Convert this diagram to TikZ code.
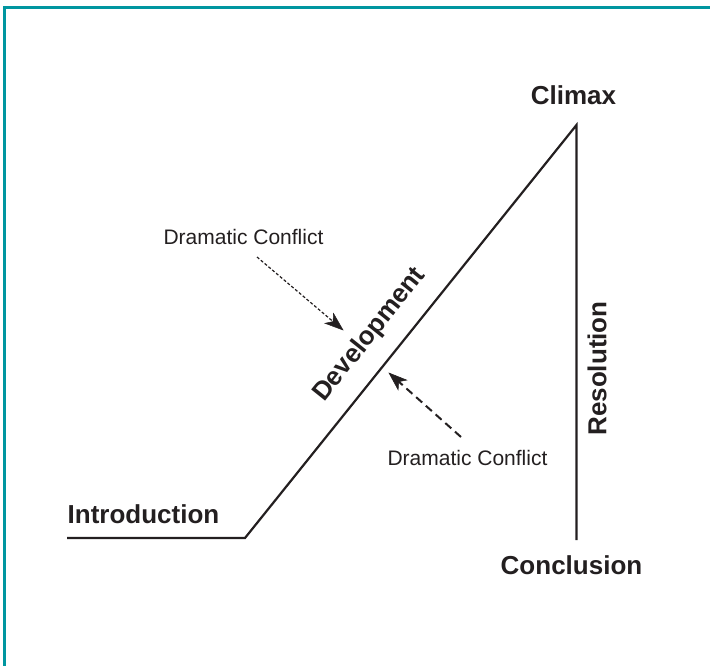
\documentclass[tikz,border=0pt]{standalone}
\usepackage{fontspec}
\setmainfont{Liberation Sans}
\usetikzlibrary{arrows.meta,calc}
\definecolor{frameteal}{RGB}{0,150,160}
\definecolor{ink}{RGB}{35,31,32}
\begin{document}
\begin{tikzpicture}[x=1pt,y=-1pt,
  lbl/.style={text=ink,font=\fontsize{26}{30}\selectfont\bfseries,inner sep=0pt},
  note/.style={text=ink,font=\fontsize{21}{25}\selectfont,inner sep=0pt},
  plot/.style={draw=ink,line width=2.2pt,line join=miter},
  headfill/.style={fill=ink,draw=ink,line width=0.5pt,line join=miter}]
\useasboundingbox (0,0) rectangle (710,666);
% frame
\draw[frameteal,line width=3pt] (4.5,666) -- (4.5,7.5) -- (710,7.5);
% main line
\coordinate (start) at (67,538);
\coordinate (bend) at (245,538);
\coordinate (apex) at (576.5,125);
\coordinate (end) at (576.5,540);
\draw[plot] (start) -- (bend) -- (apex) -- (end);
% labels
\node[lbl,anchor=base] (intro) at (143.5,523) {Introduction};
\node[lbl,anchor=base] (climax) at (573.5,105) {Climax};
\node[lbl,anchor=base] (concl) at (571.5,574) {Conclusion};
\node[lbl,rotate=90] (resol) at (597,368.5) {Resolution};
\node[lbl,rotate=51.3] (devel) at (370,335) {Development};
% dramatic conflict notes
\node[note,anchor=base] (dc1) at (243.5,244) {Dramatic Conflict};
\node[note,anchor=base] (dc2) at (467.5,465) {Dramatic Conflict};
\coordinate (a1s) at (257,257);
\coordinate (a1e) at (343,330);
\coordinate (a2s) at (461,437);
\coordinate (a2e) at (389,373);
% arrow 1 (dotted)
\draw[draw=ink,line width=1.2pt,dash pattern=on 3pt off 2pt] (a1s) -- ($(a1e)!12pt!(a1s)$);
\coordinate (h1b) at ($(a1e)!18pt!(a1s)$);
\coordinate (h1i) at ($(a1e)!13pt!(a1s)$);
\fill[headfill] (a1e) -- ($(h1b)!6.5pt!90:(a1e)$) -- (h1i) -- ($(h1b)!6.5pt!-90:(a1e)$) -- cycle;
% arrow 2 (dashed)
\draw[draw=ink,line width=2pt,dash pattern=on 8pt off 5pt] (a2s) -- ($(a2e)!12pt!(a2s)$);
\coordinate (h2b) at ($(a2e)!18pt!(a2s)$);
\coordinate (h2i) at ($(a2e)!13pt!(a2s)$);
\fill[headfill] (a2e) -- ($(h2b)!6.5pt!90:(a2e)$) -- (h2i) -- ($(h2b)!6.5pt!-90:(a2e)$) -- cycle;
\end{tikzpicture}
\end{document}
